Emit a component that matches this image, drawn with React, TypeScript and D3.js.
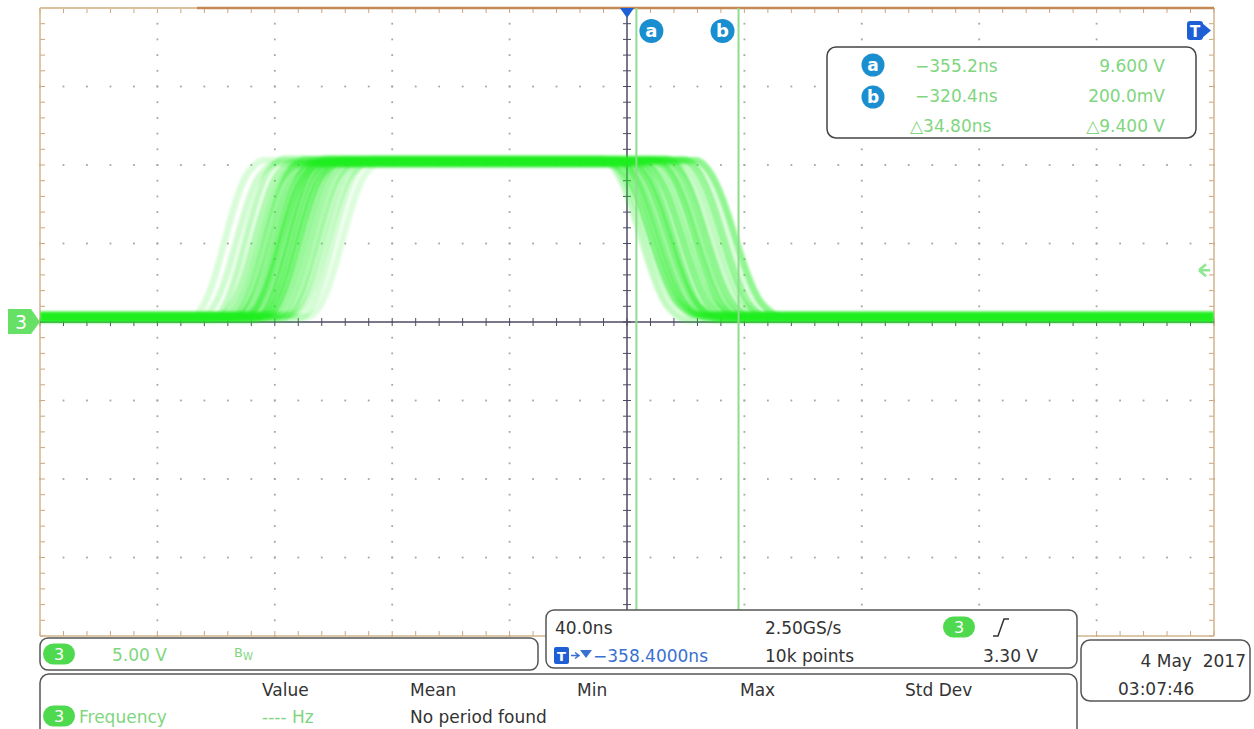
import React from "react";
import * as d3 from "d3";

// ---- data ----
const timeDomain = [-558.4, -158.4]; // ns (40 ns/div, 10 div, centre -358.4 ns)
const voltDomain = [-20, 20]; // V (5 V/div, 8 div)
const riseStarts = [-507, -503, -500, -497, -495, -493, -491, -489, -488, -486, -485, -483, -482, -480, -478, -476, -474, -472, -470, -467];
const fallStarts = [-354.5, -343, -367, -351.5, -360.5, -339, -357.5, -348.5, -363.5, -345, -356, -335, -353, -362, -347, -359, -341, -365, -350, -337];
const lowLevels = [0.25, 0.4, 0.15, 0.45, 0.3, 0.25, 0.4, 0.2, 0.45, 0.35, 0.15, 0.4, 0.25, 0.45, 0.3, 0.2, 0.4, 0.5, 0.2, 0.35];
const highLevels = [10.3, 10.1, 10.4, 10.2, 10.05, 10.35, 10.15, 10.25, 10.05, 10.4, 10.2, 10.3, 10.1, 10.35, 10.3, 10.15, 10.25, 10.1, 10.4, 10.2];
const traceOpacity = [0.18, 0.22, 0.28, 0.34, 0.4, 0.45, 0.5, 0.5, 0.5, 0.5, 0.5, 0.5, 0.48, 0.45, 0.4, 0.34, 0.28, 0.24, 0.2, 0.16];
const riseDuration = 25; // ns
const fallDuration = 29; // ns
const edgeShape: [number, number][] = [
  [0, 0], [0.08, 0.02], [0.16, 0.07], [0.25, 0.16], [0.35, 0.3], [0.45, 0.47],
  [0.55, 0.64], [0.65, 0.79], [0.75, 0.9], [0.85, 0.96], [0.93, 0.99], [1, 1],
];
const cursorTimes = [-355.2, -320.4];
const cursorLabels = ["a", "b"];
const triggerLevel = 3.3;
const readoutTimes = ["\u2212355.2ns", "\u2212320.4ns", "\u25b334.80ns"];
const readoutVolts = ["9.600 V", "200.0mV", "\u25b39.400 V"];
const measHeaders = ["Value", "Mean", "Min", "Max", "Std Dev"];

// ---- layout ----
const L = 40, R = 1214, T = 8, B = 636;
const FONT = "DejaVu Sans, sans-serif";
const GREEN_TXT = "#7fd67f";
const DARK = "#333";
const BLUE = "#1a8fd0";

export default function App() {
  const x = d3.scaleLinear().domain(timeDomain).range([L, R]);
  const y = d3.scaleLinear().domain(voltDomain).range([B, T]);
  const center = (timeDomain[0] + timeDomain[1]) / 2;
  const majorT = d3.range(-5, 6).map((n) => center + n * 40);
  const minorT = d3.range(-25, 26).map((n) => center + n * 8);
  const majorV = d3.range(-20, 21, 5);
  const minorV = d3.range(-20, 21, 1);

  const line = d3
    .line<[number, number]>()
    .x((d) => x(d[0]))
    .y((d) => y(d[1]))
    .curve(d3.curveMonotoneX);

  const traces = riseStarts.map((rs, i) => {
    const lo = lowLevels[i];
    const hi = highLevels[i];
    const fs = fallStarts[i];
    const pts: [number, number][] = [[timeDomain[0], lo]];
    edgeShape.forEach(([f, v]) => pts.push([rs + f * riseDuration, lo + (hi - lo) * v]));
    edgeShape.forEach(([f, v]) => pts.push([fs + f * fallDuration, hi - (hi - lo) * v]));
    pts.push([timeDomain[1], lo]);
    return line(pts) as string;
  });

  const dots: JSX.Element[] = [];
  majorT.forEach((t, i) => {
    if (i === 0 || i === 5 || i === 10) return;
    minorV.forEach((v, j) => dots.push(<rect key={`dv${i}-${j}`} x={x(t) - 0.9} y={y(v) - 0.9} width={1.8} height={1.8} fill="#a6a6a6" />));
  });
  majorV.forEach((v, i) => {
    if (i === 0 || i === 4 || i === 8) return;
    minorT.forEach((t, j) => dots.push(<rect key={`dh${i}-${j}`} x={x(t) - 0.9} y={y(v) - 0.9} width={1.8} height={1.8} fill="#a6a6a6" />));
  });

  const ticks: JSX.Element[] = [];
  minorT.forEach((t, j) => {
    ticks.push(<line key={`ct${j}`} x1={x(t)} x2={x(t)} y1={y(0) - 4} y2={y(0) + 4} stroke="#4b4b63" strokeWidth={1} />);
    ticks.push(<line key={`tt${j}`} x1={x(t)} x2={x(t)} y1={T} y2={T + 5} stroke="#c9a77c" strokeWidth={1} />);
    ticks.push(<line key={`bt${j}`} x1={x(t)} x2={x(t)} y1={B - 5} y2={B} stroke="#c9a77c" strokeWidth={1} />);
  });
  minorV.forEach((v, j) => {
    ticks.push(<line key={`cv${j}`} x1={x(center) - 4} x2={x(center) + 4} y1={y(v)} y2={y(v)} stroke="#4b4b63" strokeWidth={1} />);
    ticks.push(<line key={`lt${j}`} x1={L} x2={L + 5} y1={y(v)} y2={y(v)} stroke="#c9a77c" strokeWidth={1} />);
    ticks.push(<line key={`rt${j}`} x1={R - 5} x2={R} y1={y(v)} y2={y(v)} stroke="#c9a77c" strokeWidth={1} />);
  });

  const pill = (cx: number, cy: number, key: string) => (
    <g key={key}>
      <rect x={cx - 16} y={cy - 10.5} width={32} height={21} rx={10.5} fill="#4fd94f" />
      <text x={cx} y={cy + 6} textAnchor="middle" fontSize={16} fill="#fff" fontFamily={FONT}>3</text>
    </g>
  );

  return (
    <svg width={1254} height={729} style={{ position: "fixed", left: 0, top: 0, background: "#fff" }} fontFamily={FONT}>
      <rect x={0} y={0} width={1254} height={729} fill="#fff" />
      <defs>
        <clipPath id="plot"><rect x={L} y={T} width={R - L} height={B - T} /></clipPath>
        <filter id="soft" x="-5%" y="-5%" width="110%" height="110%">
          <feGaussianBlur stdDeviation="1.1" />
        </filter>
      </defs>
      {dots}
      {ticks}
      {/* frame */}
      <line x1={L} x2={L} y1={T} y2={B} stroke="#d2b48c" strokeWidth={1.5} />
      <line x1={R} x2={R} y1={T} y2={B} stroke="#d2b48c" strokeWidth={1.5} />
      <line x1={L} x2={R} y1={B} y2={B} stroke="#d2b48c" strokeWidth={1.5} />
      <line x1={L} x2={197} y1={T} y2={T} stroke="#dcc09a" strokeWidth={2} />
      <line x1={197} x2={R} y1={T} y2={T} stroke="#c48a55" strokeWidth={2.5} />
      {/* centre axes */}
      <line x1={L} x2={R} y1={y(0)} y2={y(0)} stroke="#4b4b63" strokeWidth={1.5} />
      <line x1={x(center)} x2={x(center)} y1={T} y2={B} stroke="#4b4b63" strokeWidth={1.5} />
      {/* waveform persistence */}
      <g clipPath="url(#plot)">
        <g filter="url(#soft)">
          {traces.map((d, i) => (
            <path key={i} d={d} fill="none" stroke="#1eee1e" strokeWidth={6.5} strokeOpacity={traceOpacity[i]} strokeLinejoin="round" />
          ))}
        </g>
      </g>
      {/* cursors */}
      {cursorTimes.map((t, i) => (
        <line key={`cur${i}`} x1={x(t)} x2={x(t)} y1={T} y2={B} stroke="#8fdc8f" strokeWidth={2} />
      ))}
      {cursorTimes.map((t, i) => {
        const cx = i === 0 ? x(t) + 15 : x(t) - 16;
        return (
          <g key={`cl${i}`}>
            <circle cx={cx} cy={31} r={12} fill={BLUE} />
            <text x={cx} y={37} textAnchor="middle" fontSize={18} fontWeight="bold" fill="#fff">{cursorLabels[i]}</text>
          </g>
        );
      })}
      {/* trigger position marker */}
      <path d={`M${x(center) - 7},${T} L${x(center) + 7},${T} L${x(center)},${T + 10} Z`} fill="#1f5fd6" />
      {/* T marker top right */}
      <rect x={1187} y={21} width={16} height={19} rx={3} fill="#1f5fd6" />
      <path d={`M1202,23 L1211,30.5 L1202,38 Z`} fill="#1f5fd6" />
      <text x={1195} y={37} textAnchor="middle" fontSize={15} fontWeight="bold" fill="#fff">T</text>
      {/* trigger level arrow */}
      <path d={`M1199,${y(triggerLevel)} L1206,${y(triggerLevel) - 6} M1199,${y(triggerLevel)} L1206,${y(triggerLevel) + 6} M1199,${y(triggerLevel)} L1210,${y(triggerLevel)}`} stroke="#8fe88f" strokeWidth={2.5} fill="none" />
      {/* channel 3 marker */}
      <path d={`M8,${y(0) - 13} L31,${y(0) - 13} L40,${y(0)} L31,${y(0) + 12} L8,${y(0) + 12} Z`} fill="#66e066" />
      <text x={21} y={y(0) + 7} textAnchor="middle" fontSize={19} fill="#fff">3</text>

      {/* cursor readout */}
      <rect x={827} y={47} width={369} height={91} rx={9} fill="#fff" stroke="#444" strokeWidth={1.5} />
      {[0, 1].map((i) => (
        <g key={`rc${i}`}>
          <circle cx={873} cy={65 + i * 32} r={11.5} fill={BLUE} />
          <text x={873} y={71 + i * 32} textAnchor="middle" fontSize={17} fontWeight="bold" fill="#fff">{cursorLabels[i]}</text>
        </g>
      ))}
      {readoutTimes.map((s, i) => (
        <text key={`rt${i}`} x={i === 2 ? 910 : 915} y={72 + i * 30} fontSize={17} fill={GREEN_TXT}>{s}</text>
      ))}
      {readoutVolts.map((s, i) => (
        <text key={`rv${i}`} x={1165} y={72 + i * 30} textAnchor="end" fontSize={17} fill={GREEN_TXT}>{s}</text>
      ))}

      {/* channel box */}
      <rect x={40} y={638} width={498} height={32} rx={8} fill="#fff" stroke="#555" strokeWidth={1.5} />
      {pill(59, 654, "p1")}
      <text x={112} y={661} fontSize={17} fill={GREEN_TXT}>5.00 V</text>
      <text x={234} y={657} fontSize={13} fill={GREEN_TXT}>B<tspan fontSize={10} dy={3}>W</tspan></text>

      {/* timebase box */}
      <rect x={546} y={610} width={531} height={58} rx={8} fill="#fff" stroke="#555" strokeWidth={1.5} />
      <text x={555} y={634} fontSize={17} fill={DARK}>40.0ns</text>
      <text x={765} y={634} fontSize={17} fill={DARK}>2.50GS/s</text>
      {pill(959, 627, "p2")}
      <path d="M993,636 L998,636 L1004,619 L1009,619" stroke="#333" strokeWidth={1.5} fill="none" />
      <rect x={554} y={647} width={15} height={17} rx={2} fill="#1f5fd6" />
      <text x={561.5} y={661} textAnchor="middle" fontSize={13} fontWeight="bold" fill="#fff">T</text>
      <path d="M571,655.5 L578,655.5 M575,652.5 L579,655.5 L575,658.5" stroke="#3a70d0" strokeWidth={1.5} fill="none" />
      <path d="M580,650 L592,650 L586,658 Z" fill="#3a70d0" />
      <text x={593} y={662} fontSize={17} fill="#3a70d0">{"\u2212358.4000ns"}</text>
      <text x={765} y={662} fontSize={17} fill={DARK}>10k points</text>
      <text x={1038} y={662} textAnchor="end" fontSize={17} fill={DARK}>3.30 V</text>

      {/* date box */}
      <rect x={1081} y={640} width={169} height={61} rx={9} fill="#fff" stroke="#555" strokeWidth={1.5} />
      <text x={1246} y={667} textAnchor="end" fontSize={17} fill={DARK} xmlSpace="preserve">4 May  2017</text>
      <text x={1118} y={695} fontSize={17} fill={DARK}>03:07:46</text>

      {/* measurement box */}
      <rect x={40} y={674} width={1037} height={80} rx={9} fill="#fff" stroke="#555" strokeWidth={1.5} />
      {measHeaders.map((h, i) => (
        <text key={h} x={[262, 410, 577, 740, 905][i]} y={696} fontSize={17} fill={DARK}>{h}</text>
      ))}
      {pill(59, 716, "p3")}
      <text x={79} y={723} fontSize={17} fill={GREEN_TXT}>Frequency</text>
      <text x={262} y={723} fontSize={17} fill={GREEN_TXT}>---- Hz</text>
      <text x={410} y={723} fontSize={17} fill={DARK}>No period found</text>
    </svg>
  );
}
